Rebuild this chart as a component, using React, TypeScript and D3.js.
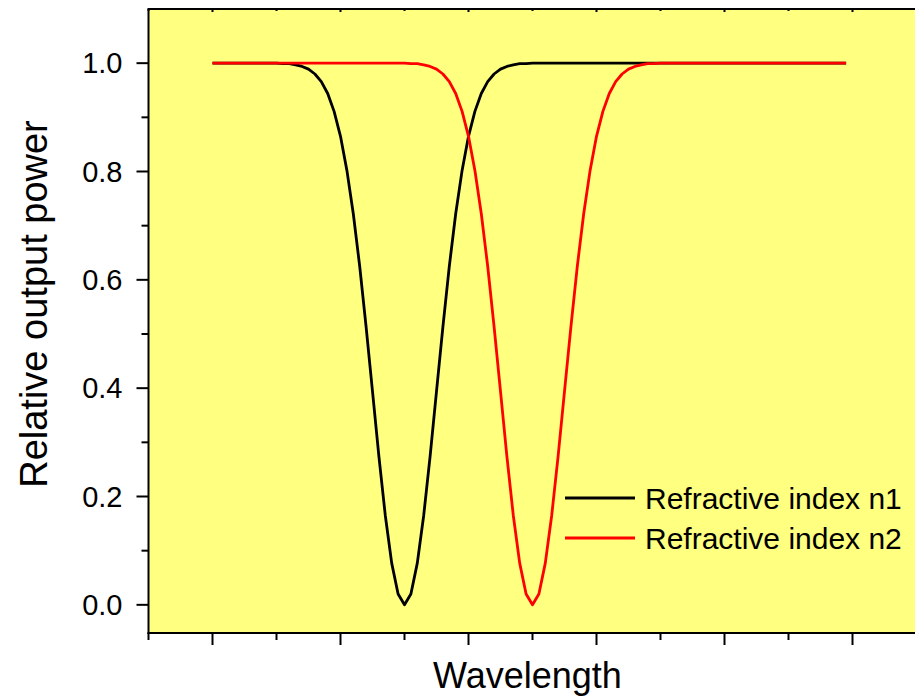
import React from "react";
import * as d3 from "d3";

// sampled wavelength points (flat shoulders only need the end points)
const wavelengthN1 = [
  1.0,
  1.5, 1.55, 1.6, 1.65, 1.7, 1.75, 1.8, 1.85, 1.9, 1.95,
  2.0, 2.05, 2.1, 2.15, 2.2, 2.25, 2.3, 2.35, 2.4, 2.45,
  2.5,
  2.55, 2.6, 2.65, 2.7, 2.75, 2.8, 2.85, 2.9, 2.95, 3.0,
  3.05, 3.1, 3.15, 3.2, 3.25, 3.3, 3.35, 3.4, 3.45, 3.5,
  5.95,
];
const powerN1 = [
  1.0,
  1.0, 0.999, 0.999, 0.997, 0.994, 0.989, 0.98, 0.966, 0.944, 0.911,
  0.865, 0.802, 0.722, 0.625, 0.513, 0.394, 0.274, 0.165, 0.077, 0.02,
  0.0,
  0.02, 0.077, 0.165, 0.274, 0.394, 0.513, 0.625, 0.722, 0.802, 0.865,
  0.911, 0.944, 0.966, 0.98, 0.989, 0.994, 0.997, 0.999, 0.999, 1.0,
  1.0,
];
const wavelengthN2 = [
  1.0,
  2.5, 2.55, 2.6, 2.65, 2.7, 2.75, 2.8, 2.85, 2.9, 2.95,
  3.0, 3.05, 3.1, 3.15, 3.2, 3.25, 3.3, 3.35, 3.4, 3.45,
  3.5,
  3.55, 3.6, 3.65, 3.7, 3.75, 3.8, 3.85, 3.9, 3.95, 4.0,
  4.05, 4.1, 4.15, 4.2, 4.25, 4.3, 4.35, 4.4, 4.45, 4.5,
  5.95,
];
const powerN2 = [
  1.0,
  1.0, 0.999, 0.999, 0.997, 0.994, 0.989, 0.98, 0.966, 0.944, 0.911,
  0.865, 0.802, 0.722, 0.625, 0.513, 0.394, 0.274, 0.165, 0.077, 0.02,
  0.0,
  0.02, 0.077, 0.165, 0.274, 0.394, 0.513, 0.625, 0.722, 0.802, 0.865,
  0.911, 0.944, 0.966, 0.98, 0.989, 0.994, 0.997, 0.999, 0.999, 1.0,
  1.0,
];

const seriesNames = ["Refractive index n1", "Refractive index n2"];
const seriesColors = ["#000000", "#ff0000"];

const yMajorTicks = [0, 0.2, 0.4, 0.6, 0.8, 1.0];
const yTickLabels = ["0.0", "0.2", "0.4", "0.6", "0.8", "1.0"];
const yMinorTicks = [0.1, 0.3, 0.5, 0.7, 0.9];
const xMajorTicks = [1, 2, 3, 4, 5, 6];
const xMinorTicks = [0.5, 1.5, 2.5, 3.5, 4.5, 5.5];

const W = 915;
const H = 699;
const left = 148.5;
const right = 916.5;
const top = 9;
const bottom = 633;
const font = "'Liberation Sans', Arial, sans-serif";

export default function App() {
  const x = d3.scaleLinear().domain([0.5, 6.5]).range([left, right]);
  const y = d3.scaleLinear().domain([-0.052, 1.1]).range([bottom, top]);

  const line = d3
    .line<[number, number]>()
    .x(d => x(d[0]))
    .y(d => y(d[1]));

  const series = [
    d3.zip(wavelengthN1, powerN1) as [number, number][],
    d3.zip(wavelengthN2, powerN2) as [number, number][],
  ];

  return (
    <svg
      width={W}
      height={H}
      style={{ position: "absolute", left: 0, top: 0, background: "#fff" }}
    >
      <rect x={left} y={top} width={W - left} height={bottom - top} fill="#ffff80" />

      {series.map((s, i) => (
        <path
          key={i}
          d={line(s) || ""}
          fill="none"
          stroke={seriesColors[i]}
          strokeWidth={2.8}
          strokeLinejoin="round"
        />
      ))}

      {/* frame */}
      <line x1={left} x2={W} y1={top} y2={top} stroke="#000" strokeWidth={2} />
      <line x1={left} x2={left} y1={top - 1} y2={bottom + 1} stroke="#000" strokeWidth={2} />
      <line x1={left - 1} x2={W} y1={bottom} y2={bottom} stroke="#000" strokeWidth={2} />

      {/* left axis */}
      {yMajorTicks.map((t, i) => (
        <g key={"ym" + i}>
          <line x1={left - 12} x2={left} y1={y(t)} y2={y(t)} stroke="#000" strokeWidth={2} />
          <text
            x={left - 26}
            y={y(t)}
            textAnchor="end"
            dominantBaseline="central"
            fontFamily={font}
            fontSize={29}
          >
            {yTickLabels[i]}
          </text>
        </g>
      ))}
      {yMinorTicks.map((t, i) => (
        <line key={"yn" + i} x1={left - 7} x2={left} y1={y(t)} y2={y(t)} stroke="#000" strokeWidth={2} />
      ))}

      {/* bottom + top axis */}
      {xMajorTicks.map((t, i) => (
        <g key={"xm" + i}>
          <line x1={x(t)} x2={x(t)} y1={bottom} y2={bottom + 12} stroke="#000" strokeWidth={2} />
          <line x1={x(t)} x2={x(t)} y1={top} y2={top + 3} stroke="#000" strokeWidth={2} />
        </g>
      ))}
      {xMinorTicks.map((t, i) => (
        <g key={"xn" + i}>
          <line x1={x(t)} x2={x(t)} y1={bottom} y2={bottom + 7} stroke="#000" strokeWidth={2} />
          <line x1={x(t)} x2={x(t)} y1={top} y2={top + 2} stroke="#000" strokeWidth={2} />
        </g>
      ))}

      {/* legend */}
      {seriesNames.map((name, i) => (
        <g key={"lg" + i} transform={`translate(565, ${498 + i * 40})`}>
          <line x1={0} x2={70} y1={0} y2={0} stroke={seriesColors[i]} strokeWidth={2.8} />
          <text x={80} y={0} dominantBaseline="central" fontFamily={font} fontSize={30}>
            {name}
          </text>
        </g>
      ))}

      {/* axis titles */}
      <text
        x={(left + right) / 2 - 5}
        y={688}
        textAnchor="middle"
        fontFamily={font}
        fontSize={36}
      >
        Wavelength
      </text>
      <text
        transform={`translate(47, 304) rotate(-90)`}
        textAnchor="middle"
        fontFamily={font}
        fontSize={38}
      >
        Relative output power
      </text>
    </svg>
  );
}
